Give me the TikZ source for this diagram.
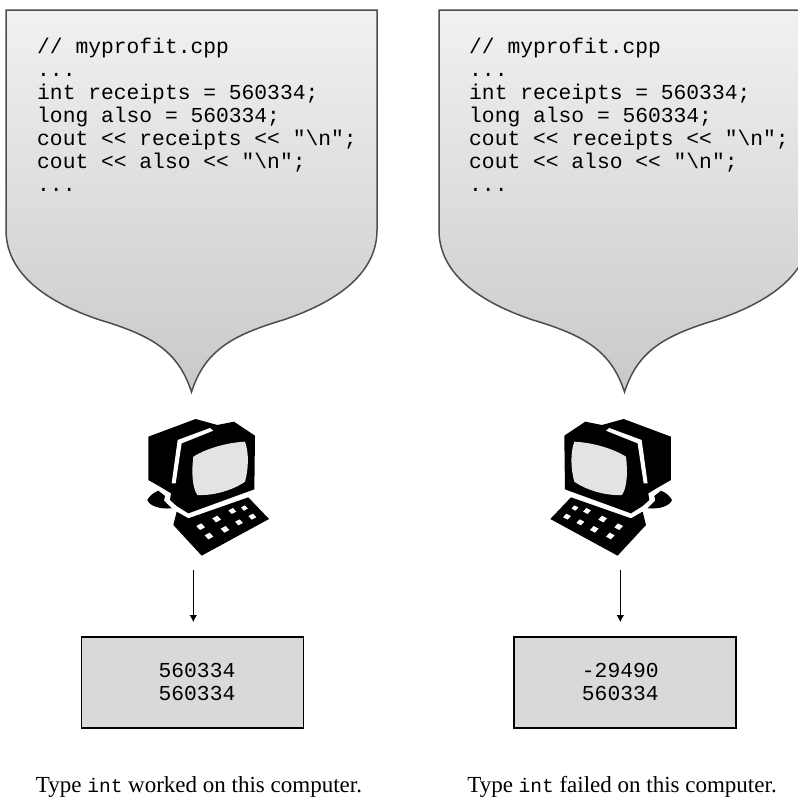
\documentclass[tikz,border=0pt]{standalone}
\usepackage{fontspec}
\setmainfont{Liberation Serif}
\setmonofont{Liberation Mono}
\usetikzlibrary{arrows.meta}
\definecolor{calloutline}{HTML}{4D4D4D}
\definecolor{gradtop}{HTML}{F0F1F1}
\definecolor{gradbot}{HTML}{C8C9CA}
\definecolor{boxfill}{HTML}{D9D9D9}
\definecolor{screenfill}{HTML}{E3E3E3}
\tikzset{
  callout/.style={draw=calloutline,line width=1.5pt,top color=gradtop,bottom color=gradbot,shading angle=0,line join=miter},
  codetext/.style={font=\ttfamily\fontsize{21.3}{22.9}\selectfont,anchor=north west,align=left,inner sep=0pt},
  outbox/.style={draw=black,line width=1.6pt,fill=boxfill,minimum width=222pt,minimum height=91pt,inner sep=0pt},
  outtext/.style={font=\ttfamily\fontsize{21.3}{22.5}\selectfont,align=right,inner sep=0pt},
  caption/.style={font=\fontsize{23}{25}\selectfont,anchor=base,inner sep=0pt},
  flow/.style={draw=black,line width=0.8pt,-{Latex[length=7pt,width=7.5pt]}},
  computer/.pic={
    \begin{scope}[x=0.33333pt,y=-0.33333pt]
      \fill[black] (115,200)--(257,147)--(322,165)--(372,155)--(435,197)--(433,358)--(235,430)--(200,408)--(180,390)--(183,370)--(150,350)--(115,330)--cycle;
      \fill[black] (145,362)--(165,378)--(162,392)--(185,415) .. controls (150,418) and (118,408) .. (112,390) .. controls (118,378) and (130,368) .. (145,362)--cycle;
      \fill[black] (200,425)--(235,445)--(415,382)--(477,447)--(275,557)--(190,465)--cycle;
      \fill[white] (310,182)--(215,220)--(197,340)--(185,340)--(203,210)--(300,174)--cycle;
      \fill[screenfill] (250,260) .. controls (290,235) and (350,218) .. (405,215) .. controls (418,250) and (415,300) .. (405,335) .. controls (370,360) and (310,378) .. (262,375) .. controls (245,350) and (245,300) .. (250,260)--cycle;
      \foreach \kx/\ky/\ks in {272/470/1,320/447/1,367/423/.9,403/414/.8,297/498/1,345/478/1,387/457/.9,427/440/.9}{
        \fill[white] (\kx-13*\ks,\ky-2*\ks)--(\kx+2*\ks,\ky-10*\ks)--(\kx+13*\ks,\ky+2*\ks)--(\kx-2*\ks,\ky+10*\ks)--cycle;
      }
    \end{scope}
  }
}
\begin{document}
\begin{tikzpicture}[x=1pt,y=-1pt]
\useasboundingbox (0,0) rectangle (798,798);
\begin{scope}
\clip (0,0) rectangle (798,798);
% left balloon
\path[callout] (6,10)--(377,10)--(377,230) .. controls (377,270) and (343,300) .. (283,320) .. controls (233,335) and (205,350) .. (191.5,392) .. controls (178,350) and (150,335) .. (100,320) .. controls (40,300) and (6,270) .. (6,230)--cycle;
% right balloon
\path[callout] (439,10)--(810,10)--(810,230) .. controls (810,270) and (776,300) .. (716,320) .. controls (666,335) and (638,350) .. (624.5,392) .. controls (611,350) and (583,335) .. (533,320) .. controls (473,300) and (439,270) .. (439,230)--cycle;
\end{scope}
\node[codetext] (codeL) at (37,38) {// myprofit.cpp\\...\\int receipts = 560334;\\long also = 560334;\\cout << receipts << "\textbackslash n";\\cout << also << "\textbackslash n";\\...};
\node[codetext] (codeR) at (469,38) {// myprofit.cpp\\...\\int receipts = 560334;\\long also = 560334;\\cout << receipts << "\textbackslash n";\\cout << also << "\textbackslash n";\\...};
\pic at (110,370) {computer};
\pic[xscale=-1] at (709.3,370) {computer};
\node[outbox] (boxL) at (192.5,682.5) {};
\node[outbox] (boxR) at (624.7,682.5) {};
\node[outtext] (outL) at (197,682) {560334\\560334};
\node[outtext] (outR) at (620.3,682) {-29490\\560334};
\coordinate (startL) at (193.3,570);
\coordinate (endL) at (193.3,622);
\coordinate (startR) at (620.3,570);
\coordinate (endR) at (620.3,622);
\draw[flow] (startL)--(endL);
\draw[flow] (startR)--(endR);
\node[caption] (capL) at (199,792) {Type {\ttfamily\fontsize{19.5}{22}\selectfont int} worked on this computer.};
\node[caption] (capR) at (622,792) {Type {\ttfamily\fontsize{19.5}{22}\selectfont int} failed on this computer.};
\end{tikzpicture}
\end{document}
